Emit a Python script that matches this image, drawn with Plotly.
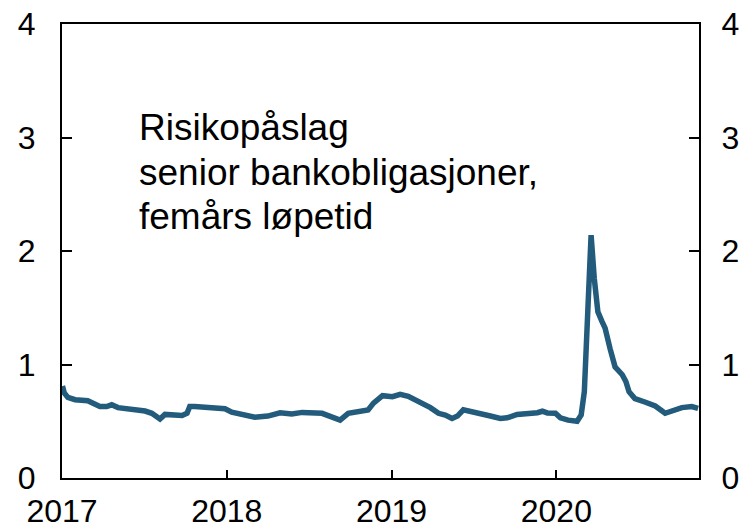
import plotly.graph_objects as go

dates = [
    "2017-01-02", "2017-01-06", "2017-01-14", "2017-01-30", "2017-02-27", "2017-03-26",
    "2017-04-10", "2017-04-21", "2017-05-05", "2017-06-05", "2017-07-04", "2017-07-19",
    "2017-08-06", "2017-08-17", "2017-09-08", "2017-09-24", "2017-10-05", "2017-10-11",
    "2017-10-22", "2017-11-29", "2017-12-28", "2018-01-12", "2018-01-18", "2018-03-04",
    "2018-04-02", "2018-04-29", "2018-05-25", "2018-06-17", "2018-07-31", "2018-08-22",
    "2018-09-09", "2018-09-27", "2018-10-19", "2018-11-10", "2018-11-22", "2018-12-12",
    "2019-01-03", "2019-01-20", "2019-02-07", "2019-02-27", "2019-03-12", "2019-03-28",
    "2019-04-15", "2019-04-30", "2019-05-15", "2019-05-27", "2019-06-09", "2019-06-24",
    "2019-07-16", "2019-08-08", "2019-08-30", "2019-09-14", "2019-10-06", "2019-10-28",
    "2019-11-20", "2019-12-01", "2019-12-12", "2019-12-30", "2020-01-10", "2020-01-27",
    "2020-02-16", "2020-02-25", "2020-03-03", "2020-03-11", "2020-03-18", "2020-03-25",
    "2020-04-02", "2020-04-11", "2020-04-18", "2020-04-29", "2020-05-10", "2020-05-26",
    "2020-06-03", "2020-06-10", "2020-06-23", "2020-07-15", "2020-08-07", "2020-08-29",
    "2020-09-15", "2020-10-05", "2020-10-27", "2020-11-10",
]
spread = [
    0.81, 0.75, 0.71, 0.69, 0.68, 0.63,
    0.63, 0.645, 0.62, 0.61, 0.59, 0.57,
    0.52, 0.56, 0.55, 0.55, 0.57, 0.63,
    0.63, 0.62, 0.61, 0.58, 0.575, 0.535,
    0.546, 0.575, 0.564, 0.578, 0.57, 0.54,
    0.51, 0.57, 0.58, 0.60, 0.66, 0.725,
    0.716, 0.737, 0.72, 0.68, 0.643, 0.62,
    0.57, 0.555, 0.525, 0.546, 0.60, 0.584,
    0.564, 0.546, 0.525, 0.53, 0.56, 0.564,
    0.575, 0.588, 0.573, 0.57, 0.53, 0.51,
    0.50, 0.555, 0.76, 1.50, 2.14, 1.76,
    1.465, 1.38, 1.32, 1.14, 0.98, 0.91,
    0.85, 0.76, 0.70, 0.67, 0.634, 0.57,
    0.59, 0.62, 0.63, 0.614,
]
year_ticks = ["2017-01-01", "2018-01-01", "2019-01-01", "2020-01-01"]
year_labels = ["2017", "2018", "2019", "2020"]
y_ticks = [0, 1, 2, 3, 4]
label_lines = ["Risikopåslag", "senior bankobligasjoner,", "femårs løpetid"]

font = "Liberation Sans, Arial, sans-serif"

fig = go.Figure()
fig.add_trace(go.Scatter(
    x=dates, y=spread, mode="lines",
    line=dict(color="#225b7b", width=5.5),
    showlegend=False, hoverinfo="skip",
))
# invisible copy so the right-hand axis gets drawn
fig.add_trace(go.Scatter(
    x=dates, y=spread, mode="lines", yaxis="y2",
    line=dict(color="rgba(0,0,0,0)", width=0),
    showlegend=False, hoverinfo="skip",
))

axis_common = dict(
    ticks="inside", tickwidth=2, tickcolor="black",
    showline=True, linecolor="black", linewidth=2,
    showgrid=False, zeroline=False, automargin=False,
    ticklabeloverflow="allow",
)

fig.update_layout(
    width=747, height=530,
    margin=dict(l=62, r=48, t=24, b=52),
    paper_bgcolor="white", plot_bgcolor="white",
    font=dict(family=font, size=32, color="black"),
    xaxis=dict(
        type="date", range=["2017-01-01", "2020-11-12"],
        tickvals=year_ticks, ticktext=year_labels,
        ticklen=8, mirror=True, ticklabelstandoff=4, **axis_common,
    ),
    yaxis=dict(
        range=[0, 4], tickvals=y_ticks,
        ticklen=10, ticklabelstandoff=18, **axis_common,
    ),
    yaxis2=dict(
        range=[0, 4], tickvals=y_ticks, overlaying="y", side="right",
        ticklen=10, ticklabelstandoff=14, **axis_common,
    ),
)

for i, line in enumerate(label_lines):
    fig.add_annotation(
        text=line, xref="paper", yref="paper",
        x=0.118, y=0.773 - i * 0.099,
        xanchor="left", yanchor="middle", align="left", showarrow=False,
        font=dict(family=font, size=37, color="black"),
    )

# drop the default body margin so the figure fills the window exactly
fig.write_html(
    "out.html",
    config={"displayModeBar": False},
    post_script="document.body.style.margin='0';",
)
